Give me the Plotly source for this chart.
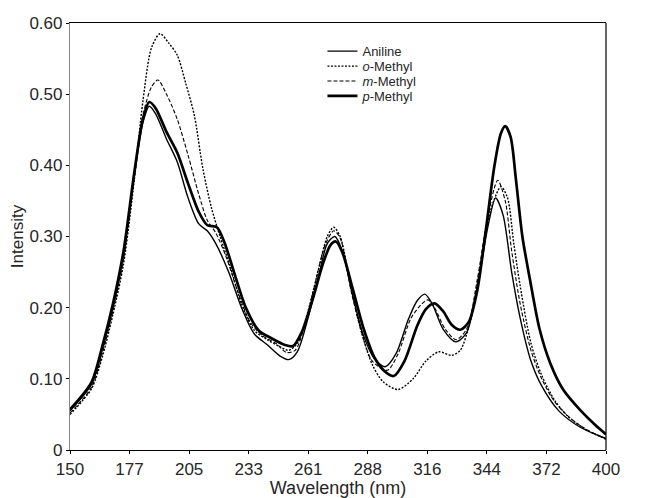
import plotly.graph_objects as go

# ---- data ----
aniline_x = [150,160,165,170,175,180,184,187,190,195,200,205,210,214,218,224,230,236,242,248,252,256,261,266,270,273.5,277,282,287,292,297,302,308,312,315.5,319,324,330,335,340,345,348.5,352,356,360,365,370,378,388,400]
aniline_y = [0.055,0.092,0.140,0.200,0.275,0.385,0.460,0.483,0.472,0.437,0.405,0.355,0.318,0.308,0.290,0.250,0.200,0.163,0.148,0.132,0.127,0.138,0.185,0.245,0.290,0.300,0.280,0.215,0.160,0.128,0.117,0.135,0.185,0.210,0.219,0.205,0.170,0.152,0.165,0.230,0.315,0.354,0.330,0.250,0.185,0.125,0.090,0.055,0.032,0.016]

omethyl_x = [150,160,165,170,175,180,184,188,192,196,200,204,208,212,216,220,225,230,236,242,248,252,256,261,266,270,273,276,281,286,291,296,303,310,316,322,328,332,337,342,346,351,354,357,360,365,370,376,382,390,400]
omethyl_y = [0.050,0.086,0.130,0.190,0.262,0.380,0.490,0.565,0.585,0.572,0.555,0.515,0.470,0.395,0.340,0.300,0.255,0.205,0.168,0.155,0.145,0.140,0.150,0.195,0.255,0.300,0.313,0.300,0.230,0.165,0.120,0.096,0.085,0.100,0.125,0.138,0.133,0.140,0.185,0.270,0.335,0.370,0.355,0.290,0.230,0.150,0.105,0.070,0.048,0.030,0.015]

mmethyl_x = [150,160,165,170,175,180,184,188,191,195,200,205,210,214,218,223,228,234,240,246,251,255,259,264,269,273,276,281,286,291,298,303,309,314,317,320,325,330,335,340,345,349.5,353,356,360,365,370,376,384,392,400]
mmethyl_y = [0.052,0.088,0.135,0.195,0.268,0.385,0.470,0.510,0.520,0.500,0.465,0.415,0.360,0.323,0.305,0.270,0.225,0.180,0.160,0.150,0.137,0.140,0.170,0.230,0.288,0.308,0.298,0.225,0.165,0.125,0.112,0.135,0.185,0.205,0.211,0.200,0.170,0.155,0.170,0.240,0.330,0.379,0.350,0.280,0.205,0.140,0.100,0.068,0.043,0.027,0.016]

pmethyl_x = [150,160,165,170,175,180,184,187,190,195,200,205,210,214,218.5,222,227,232,238,244,250,254,258,263,268,271.5,274,277,282,287,292,297,301,306,312,316,320,324,328,332,336,340,344,348,351,353,355.5,358,361,364.5,369,374,380,388,395,400]
pmethyl_y = [0.057,0.095,0.145,0.205,0.280,0.390,0.465,0.489,0.480,0.447,0.418,0.375,0.335,0.316,0.313,0.292,0.245,0.200,0.168,0.157,0.148,0.146,0.165,0.210,0.262,0.288,0.293,0.278,0.225,0.170,0.130,0.110,0.104,0.125,0.175,0.198,0.206,0.195,0.176,0.169,0.180,0.225,0.310,0.400,0.445,0.455,0.440,0.380,0.300,0.240,0.170,0.122,0.085,0.056,0.035,0.022]

x_tickvals = [150 + k * 250 / 9 for k in range(10)]
x_ticktext = ["150", "177", "205", "233", "261", "288", "316", "344", "372", "400"]
y_tickvals = [0, 0.1, 0.2, 0.3, 0.4, 0.5, 0.6]
y_ticktext = ["0", "0.10", "0.20", "0.30", "0.40", "0.50", "0.60"]

series_names = ["Aniline", "<i>o</i>-Methyl", "<i>m</i>-Methyl", "<i>p</i>-Methyl"]
series_x = [aniline_x, omethyl_x, mmethyl_x, pmethyl_x]
series_y = [aniline_y, omethyl_y, mmethyl_y, pmethyl_y]
series_line = [
    dict(color="black", width=1.4, dash="solid"),
    dict(color="black", width=1.4, dash="2px,1.5px"),
    dict(color="black", width=1.1, dash="4px,2px"),
    dict(color="black", width=2.7, dash="solid"),
]
legend_ids = ["legend", "legend2", "legend3", "legend4"]
legend_rows = [0.934, 0.899, 0.864, 0.829]

fig = go.Figure()
for name, xs, ys, ln, lg in zip(series_names, series_x, series_y, series_line, legend_ids):
    fig.add_trace(go.Scatter(x=xs, y=ys, mode="lines", name=name, legend=lg,
                             line=dict(shape="spline", smoothing=0.8, **ln)))

font_family = "Liberation Sans, Arial, sans-serif"
txt_color = "#262626"
legend_layout = {}
for lg, yrow in zip(legend_ids, legend_rows):
    legend_layout[lg] = dict(x=0.471, y=yrow, xanchor="left", yanchor="middle",
                             bgcolor="rgba(0,0,0,0)", borderwidth=0,
                             font=dict(size=13, color=txt_color,
                                       family=font_family),
                             itemwidth=30)

fig.update_layout(
    width=658, height=498,
    margin=dict(l=62, r=60, t=15, b=56, autoexpand=False),
    paper_bgcolor="white", plot_bgcolor="white",
    font=dict(family=font_family, size=17, color=txt_color),
    showlegend=True,
    xaxis=dict(range=[150, 400], tickvals=x_tickvals, ticktext=x_ticktext,
               automargin=False,
               showgrid=False, zeroline=False, showline=True, linecolor="black",
               linewidth=1.2, mirror=True, ticks="outside", ticklen=3,
               tickcolor="black", tickfont=dict(size=17),
               title=dict(text="Wavelength (nm)", font=dict(size=18), standoff=0)),
    yaxis=dict(range=[0, 0.6], tickvals=y_tickvals, ticktext=y_ticktext,
               automargin=False,
               showgrid=False, zeroline=False, showline=True, linecolor="#888888",
               linewidth=1.2, ticks="outside", ticklen=3, tickcolor="black",
               tickfont=dict(size=17),
               title=dict(text="Intensity", font=dict(size=17), standoff=4)),
    shapes=[dict(type="line", xref="paper", yref="paper", x0=1, x1=1, y0=0, y1=1,
                 line=dict(color="black", width=1.2))],
    **legend_layout,
)

fig.write_html("out.html")
